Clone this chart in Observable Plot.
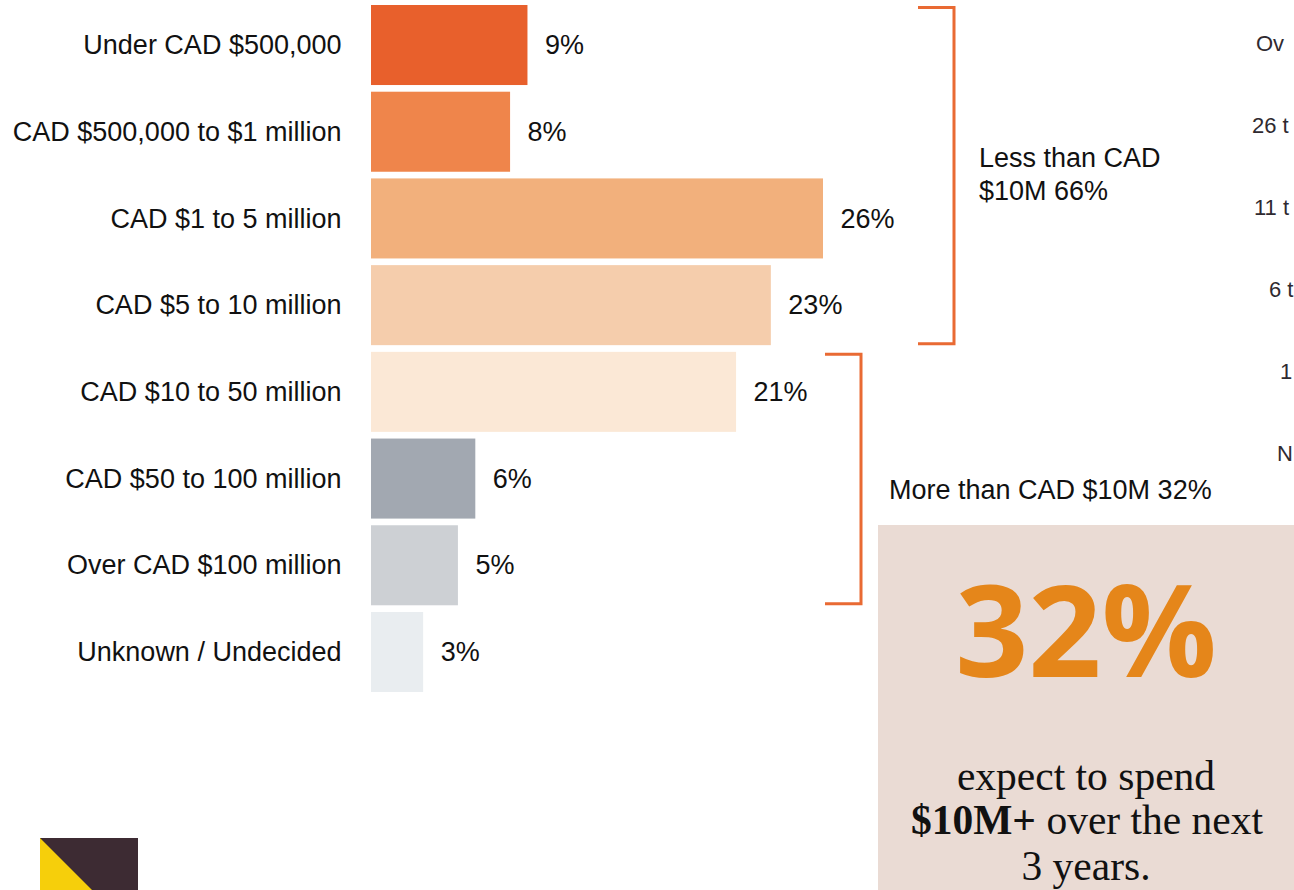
<!DOCTYPE html>
<html><head><meta charset="utf-8">
<script src="https://cdn.jsdelivr.net/npm/d3@7"></script>
<script src="https://cdn.jsdelivr.net/npm/@observablehq/plot@0.6"></script>
<style>html,body{margin:0;padding:0;background:#fff;overflow:hidden;width:1294px;height:890px}</style>
</head><body><div id="chart"></div>
<script>
const categories = ["Under CAD $500,000", "CAD $500,000 to $1 million", "CAD $1 to 5 million", "CAD $5 to 10 million", "CAD $10 to 50 million", "CAD $50 to 100 million", "Over CAD $100 million", "Unknown / Undecided"];
const shares = [9, 8, 26, 23, 21, 6, 5, 3];
const barColors = ["#e8602c", "#ef854b", "#f2b07c", "#f5cdac", "#fbe8d6", "#a2a8b1", "#cdd0d4", "#e9edf0"];
const groupLabels = [["Less than CAD", "$10M 66%"], ["More than CAD $10M 32%"]];
const groupFirst = [0, 4];
const groupLast = [3, 6];
const calloutValue = "32%";
const calloutLine1 = "expect to spend";
const calloutBold = "$10M+";
const calloutLine2 = " over the next";
const calloutLine3 = "3 years.";
// visible fragments of a neighbouring chart's labels, cropped at the right edge
const sideLabels = ["Ov", "26 t", "11 t", "6 t", "1", "N"];

const rows = categories.map((c, i) => ({category: c, share: shares[i], color: barColors[i]}));

const plot = Plot.plot({
  width: 1294, height: 890, margin: 0,
  style: {fontFamily: "'Liberation Sans', Arial, sans-serif", overflow: "hidden", background: "transparent"},
  x: {domain: [0, 26], range: [371, 823], axis: null},
  y: {domain: categories, range: [5, 692], paddingInner: 0.077, paddingOuter: 0, round: false, axis: null},
  color: {type: "identity"},
  marks: [
    Plot.barX(rows, {x: "share", y: "category", fill: "color"}),
    Plot.text(rows, {x: 0, y: "category", text: "category", textAnchor: "end", dx: -30, fontSize: 27, fill: "#111"}),
    Plot.text(rows, {x: "share", y: "category", text: d => d.share + "%", textAnchor: "start", dx: 17, fontSize: 27, fill: "#111"})
  ]
});
document.getElementById("chart").appendChild(plot);

const svg = d3.select(plot);
const ys = plot.scale("y");
const bw = ys.bandwidth;
const bracketX = [954, 861];
const arm = 36;
const orange = "#e96a33";
const g = svg.append("g").attr("text-anchor", "start");
groupFirst.forEach((f, i) => {
  const top = ys.apply(categories[f]) + 2.5;
  const bot = ys.apply(categories[groupLast[i]]) + bw - 1.5;
  const bx = bracketX[i];
  g.append("path")
    .attr("d", `M${bx - arm},${top}H${bx}V${bot}H${bx - arm}`)
    .attr("fill", "none").attr("stroke", orange).attr("stroke-width", 3);
});
// group labels
const gl1 = g.append("text").attr("font-size", 27).attr("fill", "#111").attr("text-anchor", "start");
groupLabels[0].forEach((t, k) => {
  gl1.append("tspan").attr("x", 979).attr("y", 158 + k * 33).attr("dy", "0.35em").text(t);
});
g.append("text").attr("font-size", 27).attr("fill", "#111").attr("text-anchor", "start")
  .attr("x", 889).attr("y", 490).attr("dy", "0.35em").text(groupLabels[1][0]);

// side label fragments
const sideX = [1256, 1252, 1254, 1269, 1280, 1277];
sideLabels.forEach((t, i) => {
  g.append("text").attr("font-size", 22).attr("fill", "#2f2a30").attr("text-anchor", "start")
    .attr("x", sideX[i]).attr("y", 43 + i * 82).attr("dy", "0.35em").text(t);
});

// callout box
g.append("rect").attr("x", 878).attr("y", 525).attr("width", 416).attr("height", 365).attr("fill", "#eadbd4");
g.append("text").attr("x", 1086).attr("y", 677).attr("text-anchor", "middle")
  .attr("font-family", "'Open Sans', sans-serif").attr("font-weight", 700).attr("font-size", 128)
  .attr("fill", "#e5861a").text(calloutValue);
const serif = "'Liberation Serif', 'Times New Roman', serif";
g.append("text").attr("x", 1086).attr("y", 790).attr("text-anchor", "middle")
  .attr("font-family", serif).attr("font-size", 41.5).attr("fill", "#111").text(calloutLine1);
const l2 = g.append("text").attr("x", 1087).attr("y", 834).attr("text-anchor", "middle")
  .attr("font-family", serif).attr("font-size", 41.5).attr("fill", "#111");
l2.append("tspan").attr("font-weight", 700).text(calloutBold);
l2.append("tspan").text(calloutLine2);
g.append("text").attr("x", 1086).attr("y", 880).attr("text-anchor", "middle")
  .attr("font-family", serif).attr("font-size", 41.5).attr("fill", "#111").text(calloutLine3);

// logo
g.append("rect").attr("x", 40).attr("y", 838).attr("width", 98).attr("height", 60).attr("fill", "#3d2b33");
g.append("path").attr("d", "M40,838L40,890L92,890Z").attr("fill", "#f6cf0b");
</script>
</body></html>
